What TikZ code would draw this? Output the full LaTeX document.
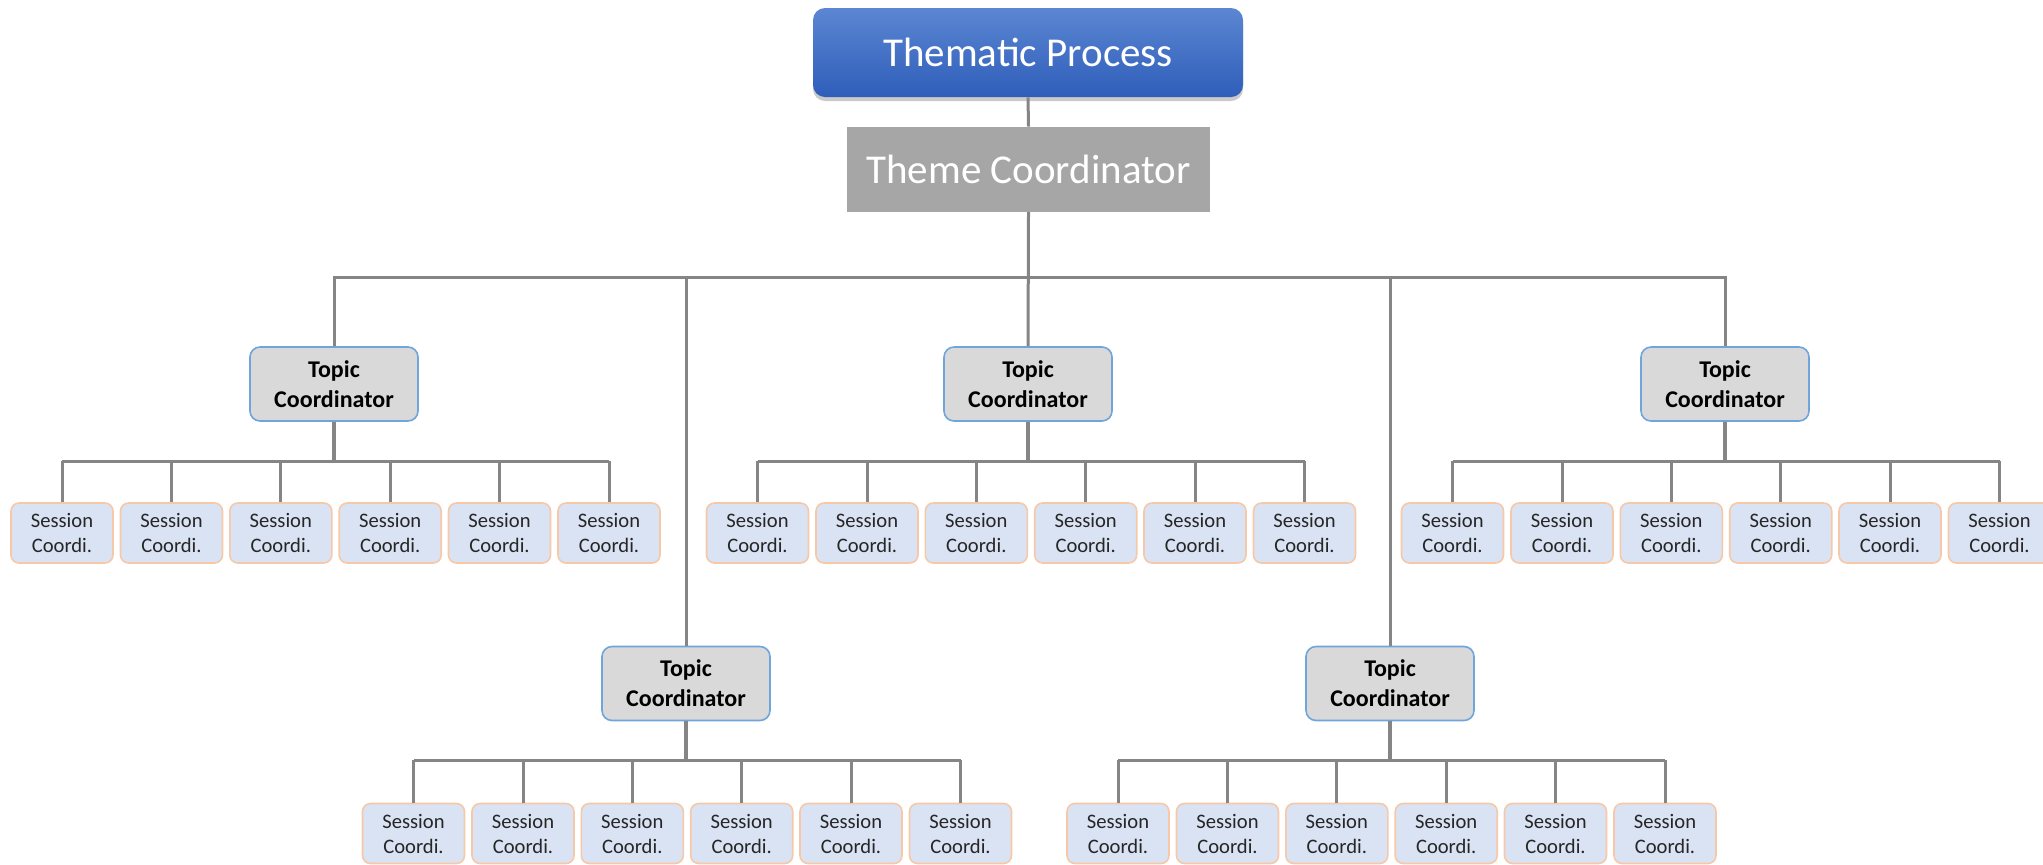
\documentclass[tikz,border=0pt]{standalone}
\usepackage{fontspec}
\setmainfont{Carlito}
\usetikzlibrary{shadows}
\definecolor{linegray}{HTML}{858585}
\definecolor{titletop}{HTML}{5B86D2}
\definecolor{titlebot}{HTML}{2F5EBA}
\definecolor{themegray}{HTML}{A6A6A6}
\definecolor{topicfill}{HTML}{D9D9D9}
\definecolor{topicborder}{HTML}{6FA5DB}
\definecolor{sessfill}{HTML}{DAE3F3}
\definecolor{sessborder}{HTML}{F6C8A8}
\begin{document}
\begin{tikzpicture}[x=0.5pt,y=-0.5pt,
  titlebox/.style={rounded corners=6pt, top color=titletop, bottom color=titlebot,
    minimum width=215pt, minimum height=44.5pt, text=white, inner sep=0pt,
    font=\fontsize{20.5}{24}\selectfont,
    drop shadow={shadow xshift=0pt, shadow yshift=-2pt, opacity=0.35, fill=black!60}},
  themebox/.style={fill=themegray, minimum width=181.5pt, minimum height=42.5pt,
    text=white, inner sep=0pt, font=\fontsize{20.5}{24}\selectfont},
  topicbox/.style={draw=topicborder, line width=0.8pt, fill=topicfill, rounded corners=5pt,
    minimum width=84pt, minimum height=37pt, inner sep=0pt, align=center,
    font=\bfseries\fontsize{12}{15}\selectfont},
  sessbox/.style={draw=sessborder, line width=0.8pt, fill=sessfill, rounded corners=4pt,
    minimum width=51pt, minimum height=30pt, inner sep=0pt, align=center,
    text=black!85, font=\fontsize{10.3}{12.5}\selectfont},
  conn/.style={draw=linegray, line width=1.5pt},
  stem/.style={draw=linegray, line width=2.2pt}
]
\useasboundingbox (0,0) rectangle (2043,864);

% bus coordinates
\coordinate (bus) at (0,277.5);
\coordinate (sbU) at (0,461);
\coordinate (sbL) at (0,760);

% top nodes
\node[titlebox] (title) at (1028,52.5) {Thematic Process};
\node[themebox] (theme) at (1028.5,169.5) {Theme Coordinator};

% topic coordinators
\node[topicbox] (tA) at (334,384) {Topic\\Coordinator};
\node[topicbox] (tB) at (1028,384) {Topic\\Coordinator};
\node[topicbox] (tC) at (1725,384) {Topic\\Coordinator};
\node[topicbox] (tD) at (686,683.5) {Topic\\Coordinator};
\node[topicbox] (tE) at (1390,683.5) {Topic\\Coordinator};

% session coordinators
\foreach \g/\cx/\cy in {A/335.5/533, B/1031/533, C/1726/533, D/687/833.5, E/1391.5/833.5}{
  \foreach \i/\dx in {1/-273.5, 2/-164, 3/-54.7, 4/54.7, 5/164, 6/273.5}{
    \node[sessbox] (s\g\i) at (\cx+\dx,\cy) {Session\\Coordi.};
  }
}

% connectors
\draw[conn] (title.south) -- (theme.north);
\draw[conn] (theme.south) -- (theme.south |- bus) -| (tA.north);
\draw[conn] (theme.south) -- (theme.south |- bus) -| (tC.north);
\draw[conn] (theme.south) -- (tB.north);
\draw[conn] (theme.south |- bus) -| (tD.north);
\draw[conn] (theme.south |- bus) -| (tE.north);

\foreach \g/\bb in {A/sbU, B/sbU, C/sbU, D/sbL, E/sbL}{
  \draw[stem] (t\g.south) -- (t\g.south |- \bb);
  \draw[conn] (s\g1.north |- \bb) -- (s\g6.north |- \bb);
  \foreach \i in {1,...,6}{
    \draw[conn] (s\g\i.north |- \bb) -- (s\g\i.north);
  }
}
\end{tikzpicture}
\end{document}
